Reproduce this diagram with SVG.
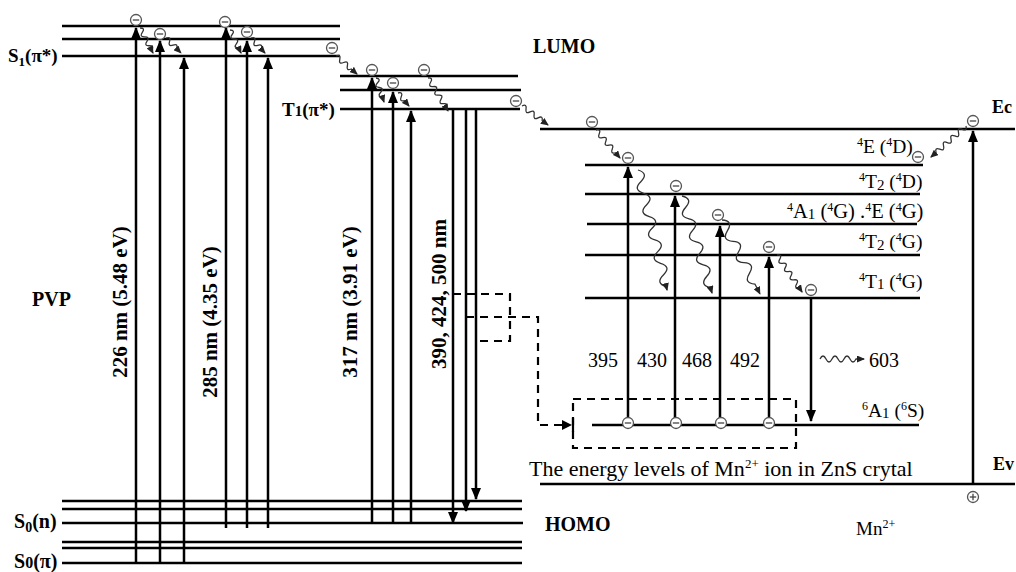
<svg xmlns="http://www.w3.org/2000/svg" xmlns:xlink="http://www.w3.org/1999/xlink" width="1016" height="572" viewBox="0 0 1016 572">
<style>
.lvl{stroke:#000;stroke-width:2.5;fill:none}
.arr{stroke:#000;stroke-width:2.5;fill:none;marker-end:url(#ah)}
.wv{stroke:#333;stroke-width:1.3;fill:none;marker-end:url(#sah)}
.dash{stroke:#000;stroke-width:2.2;fill:none;stroke-dasharray:8,6}
.b{font-family:"Liberation Serif","Times New Roman",serif;font-weight:bold;fill:#000}
.r{font-family:"Liberation Serif","Times New Roman",serif;fill:#000}
</style>
<defs>
<marker id="ah" viewBox="0 0 12 10" refX="11" refY="5" markerWidth="12" markerHeight="10" markerUnits="userSpaceOnUse" orient="auto"><path d="M0,0 L12,5 L0,10 z" fill="#000"/></marker>
<marker id="sah" viewBox="0 0 8 7" refX="7" refY="3.5" markerWidth="8" markerHeight="7" markerUnits="userSpaceOnUse" orient="auto"><path d="M0,0 L8,3.5 L0,7 z" fill="#222"/></marker>
<g id="el"><circle r="5.5" fill="#fff" stroke="#555" stroke-width="1.3"/><line x1="-3.2" y1="0" x2="3.2" y2="0" stroke="#444" stroke-width="1.3"/></g>
<g id="hole"><circle r="5.5" fill="#fff" stroke="#555" stroke-width="1.3"/><line x1="-3.2" y1="0" x2="3.2" y2="0" stroke="#444" stroke-width="1.3"/><line x1="0" y1="-3.2" x2="0" y2="3.2" stroke="#444" stroke-width="1.3"/></g>
</defs>
<rect width="1016" height="572" fill="#fff"/>

<g id="pvp-s1">
<line class="lvl" x1="62" y1="26" x2="340" y2="26"/>
<line class="lvl" x1="62" y1="39" x2="340" y2="39"/>
<line class="lvl" x1="62" y1="56" x2="340" y2="56"/>
<text class="b" x="8" y="62" font-size="19">S<tspan font-size="13" dy="4">1</tspan><tspan dy="-4">(π*)</tspan></text>
</g>
<g id="pvp-t1">
<line class="lvl" x1="340" y1="76" x2="518" y2="76"/>
<line class="lvl" x1="340" y1="90" x2="521" y2="90"/>
<line class="lvl" x1="340" y1="109" x2="520" y2="109"/>
<text class="b" x="282" y="116" font-size="19">T<tspan font-size="15">1</tspan>(π*)</text>
</g>
<g id="pvp-s0n">
<line class="lvl" x1="62" y1="501" x2="522" y2="501"/>
<line class="lvl" x1="62" y1="509" x2="522" y2="509"/>
<line class="lvl" x1="62" y1="523" x2="523" y2="523"/>
<text class="b" x="14" y="528" font-size="20">S<tspan font-size="14" dy="4">0</tspan><tspan dy="-4">(n)</tspan></text>
</g>
<g id="pvp-s0pi">
<line class="lvl" x1="62" y1="542" x2="522" y2="542"/>
<line class="lvl" x1="62" y1="548" x2="522" y2="548"/>
<line class="lvl" x1="62" y1="563" x2="522" y2="563"/>
<text class="b" x="14" y="568" font-size="20">S<tspan font-size="16">0</tspan>(π)</text>
</g>
<g id="labels">
<text class="b" x="32" y="306" font-size="20">PVP</text>
<text class="b" x="533" y="53" font-size="20">LUMO</text>
<text class="b" x="545" y="531" font-size="20">HOMO</text>
<text class="b" x="992" y="113" font-size="18">Ec</text>
<text class="b" x="993" y="470" font-size="18">Ev</text>
<text class="r" x="856" y="535" font-size="19">Mn<tspan font-size="12" dy="-7">2+</tspan></text>
</g>
<g id="zns-bands">
<line class="lvl" x1="540" y1="129" x2="1015" y2="129"/>
<line class="lvl" x1="540" y1="484" x2="1015" y2="484"/>
</g>
<g id="mn-4E4D">
<line class="lvl" x1="585" y1="165" x2="923" y2="165"/>
<text class="r" x="857" y="153" font-size="19.5"><tspan font-size="12" dy="-7">4</tspan><tspan dy="7">E (</tspan><tspan font-size="12" dy="-7">4</tspan><tspan dy="7">D)</tspan></text>
</g>
<g id="mn-4T24D">
<line class="lvl" x1="585" y1="194" x2="920" y2="194"/>
<text class="r" x="859" y="188" font-size="19.5"><tspan font-size="12" dy="-7">4</tspan><tspan dy="7">T</tspan><tspan font-size="15" dy="2">2</tspan><tspan dy="-2"> (</tspan><tspan font-size="12" dy="-7">4</tspan><tspan dy="7">D)</tspan></text>
</g>
<g id="mn-4A14G">
<line class="lvl" x1="587" y1="224" x2="917" y2="224"/>
<text class="r" x="787" y="218" font-size="20.5"><tspan font-size="12" dy="-7">4</tspan><tspan dy="7">A</tspan><tspan font-size="15" dy="1">1</tspan><tspan dy="-1"> (</tspan><tspan font-size="12" dy="-7">4</tspan><tspan dy="7">G) .</tspan><tspan font-size="12" dy="-7">4</tspan><tspan dy="7">E (</tspan><tspan font-size="12" dy="-7">4</tspan><tspan dy="7">G)</tspan></text>
</g>
<g id="mn-4T24G">
<line class="lvl" x1="585" y1="255" x2="920" y2="255"/>
<text class="r" x="859" y="248" font-size="19.5"><tspan font-size="12" dy="-7">4</tspan><tspan dy="7">T</tspan><tspan font-size="15" dy="2">2</tspan><tspan dy="-2"> (</tspan><tspan font-size="12" dy="-7">4</tspan><tspan dy="7">G)</tspan></text>
</g>
<g id="mn-4T14G">
<line class="lvl" x1="585" y1="298" x2="920" y2="298"/>
<text class="r" x="859" y="288" font-size="19.5"><tspan font-size="12" dy="-7">4</tspan><tspan dy="7">T</tspan><tspan font-size="15" dy="1">1</tspan><tspan dy="-1"> (</tspan><tspan font-size="12" dy="-7">4</tspan><tspan dy="7">G)</tspan></text>
</g>
<g id="mn-6A16S">
<line class="lvl" x1="592" y1="425" x2="919" y2="425"/>
<text class="r" x="862" y="417" font-size="19.5"><tspan font-size="12" dy="-7">6</tspan><tspan dy="7">A</tspan><tspan font-size="15" dy="1">1</tspan><tspan dy="-1"> (</tspan><tspan font-size="12" dy="-7">6</tspan><tspan dy="7">S)</tspan></text>
</g>
<g id="mn-box">
<rect class="dash" x="573" y="399" width="223" height="49"/>
<text class="r" x="529" y="476" font-size="22">The energy levels of Mn<tspan font-size="13" dy="-8">2+</tspan><tspan dy="8"> ion in ZnS crytal</tspan></text>
</g>

<g id="connectors">
<line class="arr" x1="136" y1="563" x2="136" y2="28"/>
<line class="arr" x1="160" y1="563" x2="160" y2="41"/>
<line class="arr" x1="184" y1="563" x2="184" y2="58"/>
<line class="arr" x1="226" y1="528" x2="226" y2="28"/>
<line class="arr" x1="247" y1="528" x2="247" y2="41"/>
<line class="arr" x1="268" y1="528" x2="268" y2="58"/>
<line class="arr" x1="372" y1="523" x2="372" y2="78"/>
<line class="arr" x1="393" y1="523" x2="393" y2="92"/>
<line class="arr" x1="411" y1="523" x2="411" y2="111"/>
<line class="arr" x1="453" y1="109" x2="453" y2="523"/>
<line class="arr" x1="466" y1="109" x2="466" y2="511"/>
<line class="arr" x1="476" y1="109" x2="476" y2="499"/>
<line class="arr" x1="628" y1="425" x2="628" y2="167"/>
<line class="arr" x1="675" y1="425" x2="675" y2="196"/>
<line class="arr" x1="720" y1="425" x2="720" y2="226"/>
<line class="arr" x1="769" y1="425" x2="769" y2="257"/>
<line class="arr" x1="811" y1="298" x2="811" y2="421"/>
<line class="arr" x1="973" y1="484" x2="973" y2="131"/>
<path class="dash" d="M453,294 H510 V341 H476"/>
<path class="dash" d="M466,317 H538 V425 H566"/>
<path d="M562,420 L572,425 L562,430 z" fill="#000"/>
<line x1="573" y1="418" x2="573" y2="432" stroke="#000" stroke-width="2.2"/>

<path class="wv" transform="translate(140,28) rotate(62.5)" d="M0,0 q2.5,-5 5,0 t5,0 t5,0 t5,0 t5,0 l3.2,0"/>
<path class="wv" transform="translate(166,38) rotate(45)" d="M0,0 q2.5,-5 5,0 t5,0 t5,0 l6,0"/>
<path class="wv" transform="translate(230,30) rotate(64.4)" d="M0,0 q2.5,-5 5,0 t5,0 t5,0 t5,0 l5.5,0"/>
<path class="wv" transform="translate(251,38) rotate(47)" d="M0,0 q2.5,-5 5,0 t5,0 t5,0 l5.5,0"/>
<path class="wv" transform="translate(336,56) rotate(40.6)" d="M0,0 q2.5,-5 5,0 t5,0 t5,0 t5,0 l7.7,0"/>
<path class="wv" transform="translate(376,78) rotate(71.6)" d="M0,0 q2.5,-5 5,0 t5,0 t5,0 t5,0 l5.3,0"/>
<path class="wv" transform="translate(398,93) rotate(49.8)" d="M0,0 q2.5,-5 5,0 t5,0 l7,0"/>
<path class="wv" transform="translate(428,78) rotate(58.8)" d="M0,0 q2.5,-5 5,0 t5,0 t5,0 t5,0 t5,0 t5,0 t5,0 l3.6,0"/>
<path class="wv" transform="translate(522,106) rotate(36.2)" d="M0,0 q2.5,-5 5,0 t5,0 t5,0 t5,0 t5,0 l7.2,0"/>
<path class="wv" transform="translate(596,130) rotate(49.4)" d="M0,0 q2.5,-5 5,0 t5,0 t5,0 t5,0 t5,0 t5,0 l6.9,0"/>
<path class="wv" transform="translate(966,126) rotate(138.5)" d="M0,0 q2.5,-5 5,0 t5,0 t5,0 t5,0 t5,0 t5,0 t5,0 t5,0 l6.8,0"/>
<path class="wv" transform="translate(638,170) rotate(76.4)" d="M0,0 q6,-10 12,0 t12,0 t12,0 t12,0 t12,0 t12,0 t12,0 t12,0 t12,0 t12,0 l3.5,0"/>
<path class="wv" transform="translate(682,196) rotate(72.8)" d="M0,0 q6,-10 12,0 t12,0 t12,0 t12,0 t12,0 t12,0 t12,0 t12,0 l5.5,0"/>
<path class="wv" transform="translate(722,220) rotate(62.8)" d="M0,0 q6,-10 12,0 t12,0 t12,0 t12,0 t12,0 t12,0 l11,0"/>
<path class="wv" transform="translate(777,255) rotate(55.9)" d="M0,0 q2.5,-5 5,0 t5,0 t5,0 t5,0 t5,0 t5,0 t5,0 t5,0 l4.7,0"/>
<path class="wv" transform="translate(820,359)" d="M0,0 q3,-6 6,0 t6,0 t6,0 t6,0 t6,0 t6,0 l8,0"/>
</g>

<g id="rot-labels">
<text class="b" font-size="21" text-anchor="middle" transform="translate(127,302) rotate(-90)">226 nm (5.48 eV)</text>
<text class="b" font-size="21" text-anchor="middle" transform="translate(217,322) rotate(-90)">285 nm (4.35 eV)</text>
<text class="b" font-size="21" text-anchor="middle" transform="translate(357,302) rotate(-90)">317 nm (3.91 eV)</text>
<text class="b" font-size="21" text-anchor="middle" transform="translate(446,294) rotate(-90)">390, 424, 500 nm</text>
</g>
<g id="wavelengths">
<text class="r" font-size="20" text-anchor="middle" x="603" y="367">395</text>
<text class="r" font-size="20" text-anchor="middle" x="652" y="367">430</text>
<text class="r" font-size="20" text-anchor="middle" x="697" y="367">468</text>
<text class="r" font-size="20" text-anchor="middle" x="745" y="367">492</text>
<text class="r" font-size="20" x="869" y="367">603</text>
</g>

<g id="electrons">
<use xlink:href="#el" x="136" y="20"/>
<use xlink:href="#el" x="160" y="34"/>
<use xlink:href="#el" x="225" y="22"/>
<use xlink:href="#el" x="247" y="32"/>
<use xlink:href="#el" x="332" y="48"/>
<use xlink:href="#el" x="372" y="70"/>
<use xlink:href="#el" x="393" y="83"/>
<use xlink:href="#el" x="424" y="70"/>
<use xlink:href="#el" x="516" y="101"/>
<use xlink:href="#el" x="592" y="122"/>
<use xlink:href="#el" x="628" y="158"/>
<use xlink:href="#el" x="676" y="186"/>
<use xlink:href="#el" x="718" y="215"/>
<use xlink:href="#el" x="769" y="247"/>
<use xlink:href="#el" x="811" y="290"/>
<use xlink:href="#el" x="973" y="121"/>
<use xlink:href="#el" x="918" y="157"/>
<use xlink:href="#el" x="628" y="423"/>
<use xlink:href="#el" x="676" y="423"/>
<use xlink:href="#el" x="721" y="423"/>
<use xlink:href="#el" x="769" y="423"/>
<use xlink:href="#hole" x="973" y="497"/>
</g>
</svg>
